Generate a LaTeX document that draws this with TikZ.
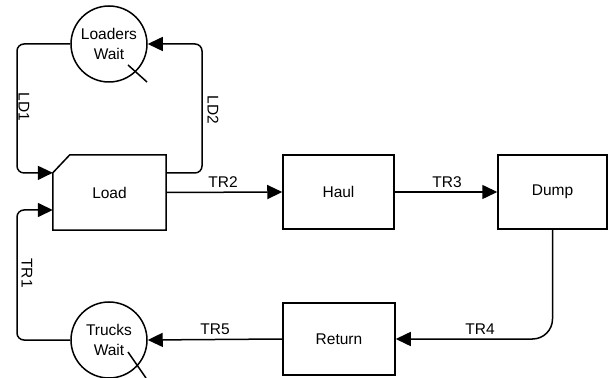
\documentclass[tikz,border=0pt]{standalone}
\usepackage{fontspec}
\setmainfont{Liberation Sans}
\usetikzlibrary{arrows.meta,calc}
\begin{document}
\begin{tikzpicture}[x=1pt,y=1pt,
  every node/.style={font=\fontsize{15.5}{20}\selectfont},
  line/.style={line width=1.5pt},
  arr/.style={line width=1.5pt,-{Triangle[length=15pt,width=14pt]}},
  box/.style={draw,line width=1.5pt,minimum height=74pt,inner sep=0pt},
  queue/.style={draw,circle,line width=1.5pt,minimum size=76pt,inner sep=0pt,align=center},
  lbl/.style={inner sep=1pt}]
\useasboundingbox (0,0) rectangle (609,377);
\begin{scope}
\clip (0,0) rectangle (609,377);
% nodes
\node[queue] (ldw) at (109,333) {Loaders\\Wait};
\node[queue] (trw) at (109,37) {Trucks\\Wait};
\node[minimum width=113pt,minimum height=75pt,inner sep=0pt] (load) at (109.5,184.5) {Load};
\node[box,minimum width=111pt] (haul) at (338.5,185) {Haul};
\node[box,minimum width=109pt] (dump) at (552.5,185) {Dump};
\node[box,minimum width=112pt,minimum height=72pt] (ret) at (339,38) {Return};
% load outline with chamfer
\coordinate (ldin) at ([yshift=-18pt]load.north west);
\coordinate (ldout) at ([yshift=-18pt]load.north east);
\coordinate (trin) at ([yshift=-17.5pt]load.west);
\draw[line,line join=miter] (load.south west) -- (ldin) -- ([xshift=17pt]load.north west) -- (load.north east) -- (load.south east) -- cycle;
% slashes
\draw[line] ($(ldw.center)+(19,-21)$) -- ($(ldw.center)+(38,-38)$);
\draw[line] ($(trw.center)+(19,-12)$) -- ($(trw.center)+(37,-38)$);
% connectors
\draw[arr,rounded corners=7pt] (ldw.west) -- (17,333) -- (17,204) -- (ldin);
\draw[arr,rounded corners=7pt] (ldout) -- (202,204) -- (202,333) -- (ldw.east);
\draw[arr,rounded corners=7pt] (trw.west) -- (17,37) -- (17,167) -- (trin);
\draw[arr] (load.east) -- (haul.west);
\draw[arr] (haul.east) -- (dump.west);
\draw[arr,rounded corners=20pt] (dump.south) -- (dump.south |- ret.east) -- (ret.east);
\draw[arr] (ret.west) -- (trw.east);
% labels
\node[lbl,rotate=-90] at (24,270) {LD1};
\node[lbl,rotate=-90] at (213,267) {LD2};
\node[lbl,rotate=-90] at (27,104) {TR1};
\node[lbl] at (223,195) {TR2};
\node[lbl] at (447,195) {TR3};
\node[lbl] at (480,48) {TR4};
\node[lbl] at (215,48) {TR5};
\end{scope}
\end{tikzpicture}
\end{document}
